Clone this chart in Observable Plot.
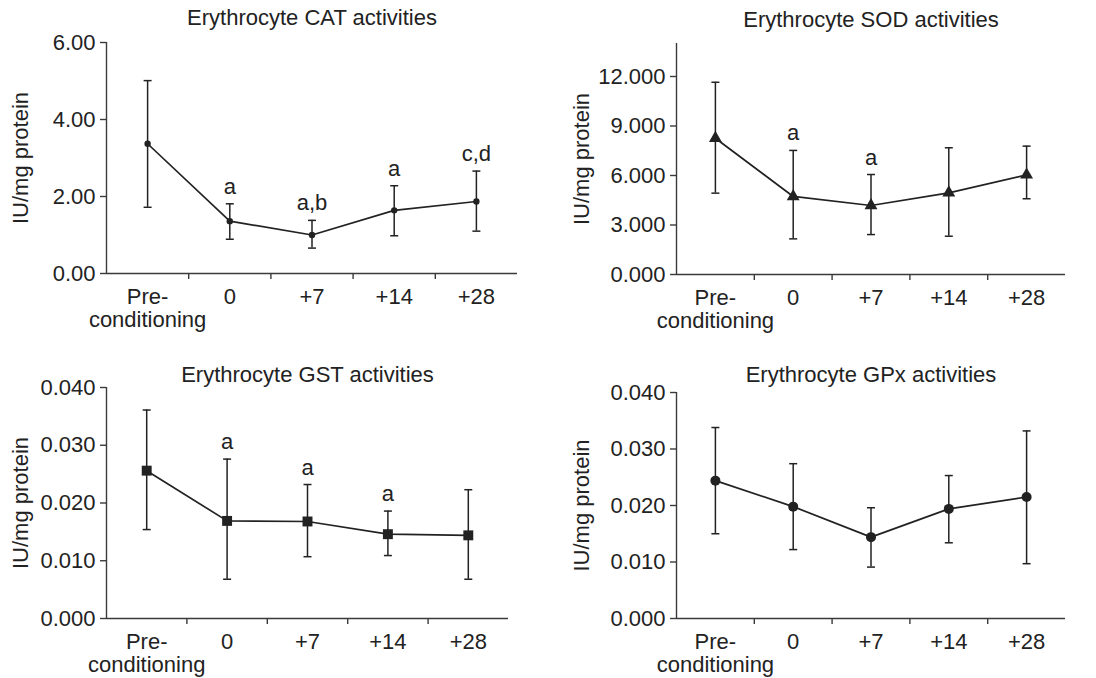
<!DOCTYPE html>
<html><head><meta charset="utf-8">
<script src="https://cdn.jsdelivr.net/npm/d3@7"></script>
<script src="https://cdn.jsdelivr.net/npm/@observablehq/plot@0.6"></script>
<style>
body{margin:0;background:#fff;}
#root{position:relative;width:1096px;height:678px;background:#fff;overflow:hidden;}
#root svg{position:absolute;background:#fff;}
</style></head><body><div id="root"></div>
<script>
// ---- data ----
const categories = ["Pre-\nconditioning", "0", "+7", "+14", "+28"];
const yLabel = "IU/mg protein";

const catTitle = "Erythrocyte CAT activities";
const catMean = [3.37, 1.36, 1.00, 1.64, 1.87];
const catLow  = [1.72, 0.89, 0.66, 0.98, 1.10];
const catHigh = [5.01, 1.81, 1.38, 2.28, 2.66];
const catSig  = ["", "a", "a,b", "a", "c,d"];
const catTicks = [0, 2, 4, 6];

const sodTitle = "Erythrocyte SOD activities";
const sodMean = [8.26, 4.73, 4.18, 4.95, 6.04];
const sodLow  = [4.93, 2.16, 2.42, 2.32, 4.59];
const sodHigh = [11.65, 7.52, 6.06, 7.68, 7.78];
const sodSig  = ["", "a", "a", "", ""];
const sodTicks = [0, 3, 6, 9, 12];

const gstTitle = "Erythrocyte GST activities";
const gstMean = [0.0256, 0.0169, 0.0168, 0.0146, 0.0144];
const gstLow  = [0.0154, 0.0068, 0.0107, 0.0109, 0.0068];
const gstHigh = [0.0361, 0.0276, 0.0232, 0.0186, 0.0223];
const gstSig  = ["", "a", "a", "a", ""];
const gstTicks = [0, 0.01, 0.02, 0.03, 0.04];

const gpxTitle = "Erythrocyte GPx activities";
const gpxMean = [0.0244, 0.0198, 0.0144, 0.0194, 0.0215];
const gpxLow  = [0.0150, 0.0122, 0.0091, 0.0134, 0.0097];
const gpxHigh = [0.0338, 0.0274, 0.0196, 0.0253, 0.0332];
const gpxSig  = ["", "", "", "", ""];
const gpxTicks = [0, 0.01, 0.02, 0.03, 0.04];

// ---- drawing ----
const ink = "#222";
const axisInk = "#3a3a3a";
const capSymbol = {draw(ctx, size) { const h = Math.sqrt(size / Math.PI); ctx.moveTo(-h, 0); ctx.lineTo(h, 0); }};
const font = "'Liberation Sans', Arial, Helvetica, sans-serif";

const panels = [
  {title: catTitle, mean: catMean, low: catLow, high: catHigh, sig: catSig, ticks: catTicks, yMax: 6, fmt: ".2f",
   symbol: "circle", r: 3.2, left: 0, top: 0, width: 540, height: 340, ml: 106, mr: 23, mt: 42, mb: 67, titleDy: -18, labelDx: -86},
  {title: sodTitle, mean: sodMean, low: sodLow, high: sodHigh, sig: sodSig, ticks: sodTicks, yMax: 14, fmt: ".3f",
   symbol: "triangle", r: 4.8, left: 548, top: 0, width: 540, height: 340, ml: 128, mr: 23, mt: 43, mb: 66, titleDy: -17, labelDx: -95},
  {title: gstTitle, mean: gstMean, low: gstLow, high: gstHigh, sig: gstSig, ticks: gstTicks, yMax: 0.04, fmt: ".3f",
   symbol: "square", r: 5.6, left: 0, top: 340, width: 540, height: 338, ml: 106, mr: 32, mt: 47, mb: 60, titleDy: -6, labelDx: -86},
  {title: gpxTitle, mean: gpxMean, low: gpxLow, high: gpxHigh, sig: gpxSig, ticks: gpxTicks, yMax: 0.04, fmt: ".3f",
   symbol: "circle", r: 5, left: 548, top: 340, width: 540, height: 338, ml: 128, mr: 23, mt: 52, mb: 60, titleDy: -11, labelDx: -95}
];

const root = document.getElementById("root");
for (const p of panels) {
  const rows = categories.map((c, i) => ({i, mean: p.mean[i], lo: p.low[i], hi: p.high[i], sig: p.sig[i]}));
  const idx = categories.map((c, i) => i);
  const bounds = idx.slice(0, -1).map(i => i + 0.5);
  const chart = Plot.plot({
    width: p.width, height: p.height,
    marginLeft: p.ml, marginRight: p.mr, marginTop: p.mt, marginBottom: p.mb,
    style: {fontFamily: font, fontSize: "22px", color: ink, background: "#fff"},
    x: {domain: [-0.5, categories.length - 0.5]},
    y: {domain: [0, p.yMax]},
    marks: [
      Plot.axisY({ticks: p.ticks, tickFormat: d3.format(p.fmt), tickSize: 6, tickPadding: 5, label: null, stroke: axisInk, strokeWidth: 1.4}),
      Plot.axisX({ticks: bounds, tickFormat: () => "", tickSize: 6, label: null, stroke: axisInk, strokeWidth: 1.4}),
      Plot.axisX({ticks: idx, tickFormat: i => categories[i], tickSize: 0, tickPadding: 14, label: null, lineHeight: 1.05}),
      Plot.ruleX([-0.5], {stroke: axisInk, strokeWidth: 1.4}),
      Plot.ruleY([0], {stroke: axisInk, strokeWidth: 1.4}),
      Plot.text([yLabel], {text: d => d, frameAnchor: "left", textAnchor: "middle", rotate: -90, dx: p.labelDx, fill: ink}),
      Plot.text([p.title], {text: d => d, frameAnchor: "top", lineAnchor: "bottom", dy: p.titleDy, fill: ink}),
      Plot.ruleX(rows, {x: "i", y1: "lo", y2: "hi", stroke: ink, strokeWidth: 1.5}),
      Plot.dot(rows, {x: "i", y: "lo", symbol: capSymbol, r: 4, stroke: ink, strokeWidth: 1.5, fill: "none"}),
      Plot.dot(rows, {x: "i", y: "hi", symbol: capSymbol, r: 4, stroke: ink, strokeWidth: 1.5, fill: "none"}),
      Plot.line(rows, {x: "i", y: "mean", stroke: ink, strokeWidth: 1.7}),
      Plot.dot(rows, {x: "i", y: "mean", symbol: p.symbol, r: p.r, fill: ink, stroke: "none"}),
      Plot.text(rows.filter(d => d.sig), {x: "i", y: "hi", text: "sig", lineAnchor: "bottom", dy: -10, fill: ink})
    ]
  });
  chart.style.left = p.left + "px";
  chart.style.top = p.top + "px";
  root.appendChild(chart);
}
</script>
</body></html>
